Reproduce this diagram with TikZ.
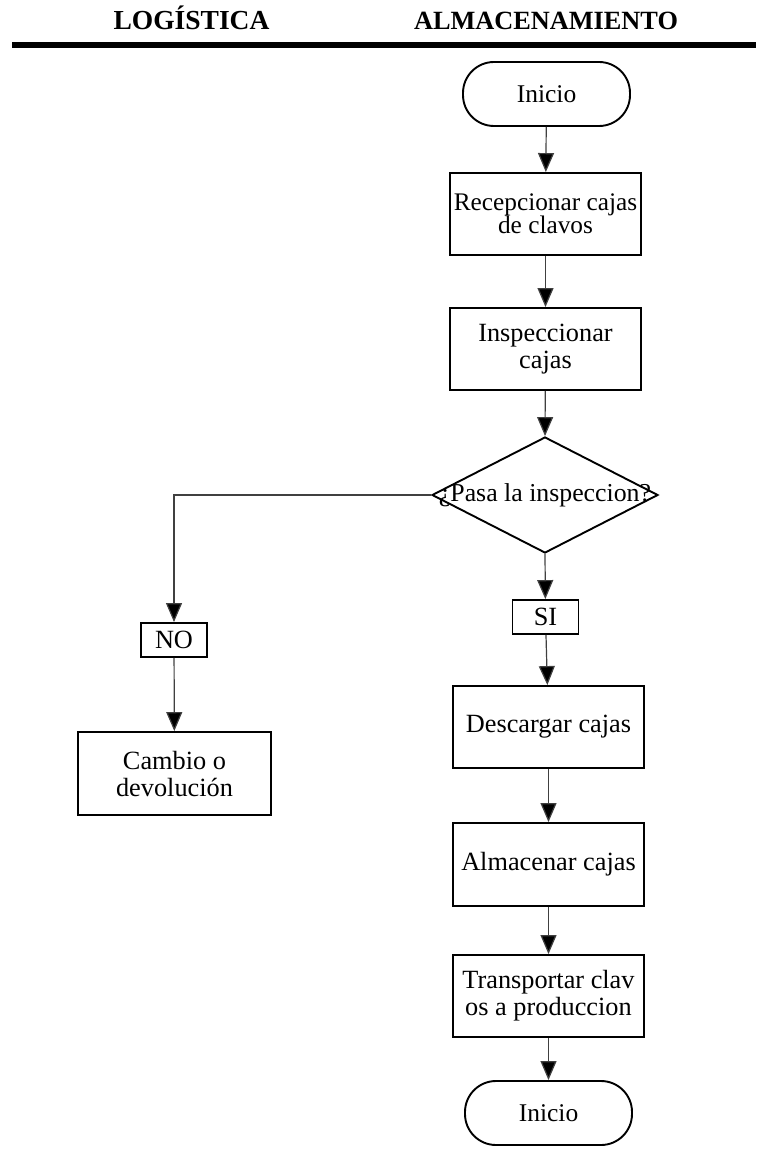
\documentclass[tikz,border=0pt]{standalone}
\usepackage{fontspec}
\setmainfont{Liberation Serif}
\usetikzlibrary{arrows.meta,shapes.geometric}
\begin{document}
\begin{tikzpicture}[x=1pt,y=-1pt,
  every node/.style={font=\fontsize{26.3}{27}\selectfont, align=center, inner sep=0pt},
  procbox/.style={draw, line width=1.9pt, minimum width=191pt, minimum height=82pt},
  termbox/.style={draw, line width=1.9pt, rounded corners=31pt, minimum width=167pt, minimum height=64pt,
    font=\fontsize{25.5}{27}\selectfont},
  tagbox/.style={draw, line width=1.9pt, minimum width=66pt, minimum height=34pt},
  decbox/.style={draw, line width=1.9pt, diamond, minimum width=226pt, minimum height=116pt},
  heading/.style={font=\fontsize{26.3}{28}\selectfont\bfseries},
  flow/.style={draw=black!75, line width=1.2pt, -{Triangle[length=19pt,width=16pt,fill=black]}}
]
\useasboundingbox (0,0) rectangle (756,1150);

% column headings and rule
\node[heading, font=\fontsize{27.5}{28}\selectfont\bfseries, anchor=base] (hlog) at (191.5,30) {LOGÍSTICA};
\node[heading, anchor=base] (halm) at (546,30) {ALMACENAMIENTO};
\draw[line width=6.6pt] (12,45) -- (756,45);

% main column
\node[termbox] (start) at (546.5,94) {Inicio};
\node[procbox, font=\fontsize{25.3}{23}\selectfont] (recep) at (545.5,214) {Recepcionar cajas\\de clavos};
\node[procbox] (insp) at (545.5,349) {Inspeccionar\\cajas};
\node[decbox] (dec) at (545,495) {};
\node[font=\fontsize{25.8}{27}\selectfont] (dectext) at (dec.center) {¿Pasa la inspeccion?};
\node[tagbox] (si) at (545.5,617) {SI};
\node[procbox] (desc) at (548.5,727) {Descargar cajas};
\node[procbox, minimum height=83pt] (alm) at (548.5,864.5) {Almacenar cajas};
\node[procbox] (trans) at (548.5,996) {Transportar clav\\os a produccion};
\node[termbox] (fin) at (548.5,1113) {Inicio};

% rejected branch
\node[tagbox] (no) at (174,640) {NO};
\node[procbox, minimum width=193pt, minimum height=83pt] (camb) at (174.5,773.5) {Cambio o\\devolución};

% connectors
\draw[flow] (start) -- (recep);
\draw[flow] (recep) -- (insp);
\draw[flow] (insp) -- (dec.north);
\draw[flow] (dec.south) -- (si);
\draw[flow] (si) -- (desc);
\draw[flow] (desc) -- (alm);
\draw[flow] (alm) -- (trans);
\draw[flow] (trans) -- (fin);
\draw[flow] (dec.west) -| (no.north);
\draw[flow] (no) -- (camb);
\end{tikzpicture}
\end{document}
